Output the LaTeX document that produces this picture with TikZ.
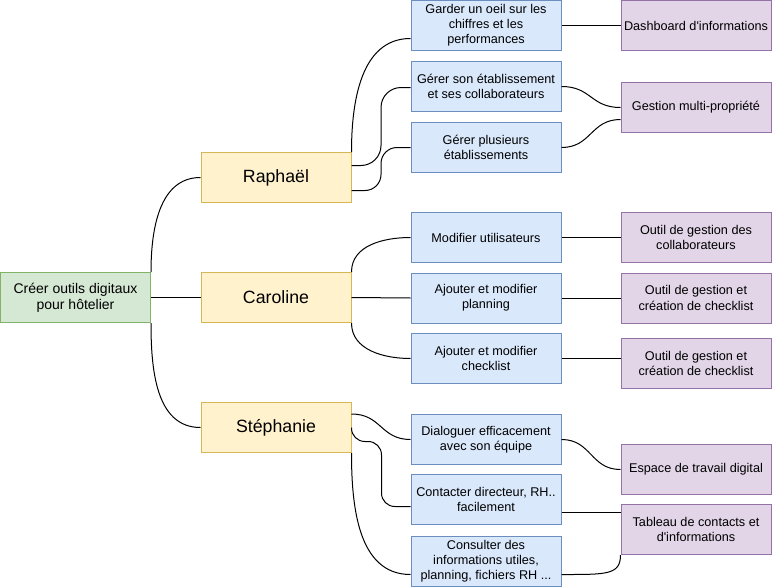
\documentclass[tikz,border=0pt]{standalone}
\usepackage{fontspec}
\setmainfont{Liberation Sans}[Ligatures=TeXOff]
\usetikzlibrary{calc}

\definecolor{rootfill}{HTML}{D5E8D4}
\definecolor{rootline}{HTML}{82B366}
\definecolor{personfill}{HTML}{FFF2CC}
\definecolor{personline}{HTML}{D6B656}
\definecolor{needfill}{HTML}{DAE8FC}
\definecolor{needline}{HTML}{6C8EBF}
\definecolor{toolfill}{HTML}{E1D5E7}
\definecolor{toolline}{HTML}{9673A6}

\tikzset{every picture/.style={line width=0.75pt}}

\begin{document}
\begin{tikzpicture}[x=0.75pt,y=0.75pt,yscale=-1,xscale=1,
  box/.style={draw, minimum width=112.5pt, minimum height=37.5pt, inner sep=0.75pt, align=center, font=\fontsize{9.5}{11.3}\selectfont},
  rootbox/.style={box, fill=rootfill, draw=rootline, font=\fontsize{10.5}{11.8}\selectfont},
  personbox/.style={box, fill=personfill, draw=personline, font=\fontsize{13.3}{15}\selectfont},
  needbox/.style={box, fill=needfill, draw=needline},
  toolbox/.style={box, fill=toolfill, draw=toolline}]
%set diagram size 772 x 587
\path (0,0) rectangle (772,587);

%Shape: Rectangle [root]
\node [rootbox] (root) at (75.5,297) {Créer outils digitaux\\pour hôtelier};
%Shape: Rectangle [persons]
\node [personbox] (rap) at (276,177) {Raphaël};
\node [personbox] (car) at (276,297) {Caroline};
\node [personbox] (ste) at (276,427) {Stéphanie};
%Shape: Rectangle [needs]
\node [needbox] (garder) at (486,25) {Garder un oeil sur les\\chiffres et les\\performances};
\node [needbox] (gerer) at (486,86) {Gérer son établissement\\et ses collaborateurs};
\node [needbox] (plusieurs) at (486,147) {Gérer plusieurs\\établissements};
\node [needbox] (modifier) at (486,237) {Modifier utilisateurs};
\node [needbox] (planning) at (486,297.5) {Ajouter et modifier\\planning};
\node [needbox] (checklist) at (486,358) {Ajouter et modifier\\checklist};
\node [needbox] (dialoguer) at (486,439) {Dialoguer efficacement\\avec son équipe};
\node [needbox] (contacter) at (486,499) {Contacter directeur, RH..\\facilement};
\node [needbox] (consulter) at (486,561) {Consulter des\\informations utiles,\\planning, fichiers RH ...};
%Shape: Rectangle [tools]
\node [toolbox] (dashboard) at (696,25) {Dashboard d'informations};
\node [toolbox] (multi) at (696,107) {Gestion multi-propriété};
\node [toolbox] (collab) at (696,237) {Outil de gestion des\\collaborateurs};
\node [toolbox] (creation) at (696,297.5) {Outil de gestion et\\création de checklist};
\node [toolbox] (creationb) at (696,363) {Outil de gestion et\\création de checklist};
\node [toolbox] (espace) at (696,469) {Espace de travail digital};
\node [toolbox] (tableau) at (696,529) {Tableau de contacts et\\d'informations};

%Curve Lines [root]
\draw (root.north east) to[out=-90,in=180] (rap.west);
\draw (root.east) -- (car.west);
\draw (root.south east) to[out=90,in=180] (ste.west);

%Curve Lines [Raphael]
\coordinate (midr) at ($(rap.east)!.5!(gerer.west)$);
\coordinate (rg) at ($(rap.east)+(0,-12)$);
\coordinate (gr) at ($(gerer.west)+(0,1)$);
\coordinate (rp) at ($(rap.east)+(0,13)$);
\draw (rap.north east) to[out=-90,in=180] ($(garder.west)+(0,13)$);
\draw [rounded corners=15pt] (rg) -| (midr |- gr) -- (gr);
\draw [rounded corners=12pt] (rp) -| (midr |- plusieurs.west) -- (plusieurs.west);
\draw (garder.east) -- (dashboard.west);
\draw (gerer.east) .. controls +(30,0) and +(-30,0) .. (multi.west);
\draw (plusieurs.east) .. controls +(30,0) and +(-30,0) .. ($(multi.west)+(0,12)$);

%Curve Lines [Caroline]
\draw (car.north east) to[out=-90,in=180] (modifier.west);
\draw (car.east) -- (planning.west);
\draw (car.south east) to[out=90,in=180] (checklist.west);
\draw (modifier.east) -- (collab.west);
\draw (planning.east) -- (creation.west);
\draw (checklist.east) -- (checklist.east -| creationb.west);

%Curve Lines [Stephanie]
\draw ($(ste.north east)+(0,12)$) .. controls +(30,0) and +(-30,0) .. (dialoguer.west);
\draw [rounded corners=10pt] (ste.east) |- ($(ste.east)+(30,14)$) |- ($(contacter.west)+(0,7)$);
\draw (ste.south east) to[out=90,in=180] ($(consulter.west)+(0,13)$);
\draw (dialoguer.east) .. controls +(30,0) and +(-30,0) .. (espace.west);
\coordinate (cfree) at ($(contacter.east)+(0,13)$);
\draw (cfree) -- (cfree -| tableau.west);
\draw ($(consulter.east)+(0,13)$) .. controls +(45,0) and +(0,20) .. (tableau.south west);

\end{tikzpicture}
\end{document}
